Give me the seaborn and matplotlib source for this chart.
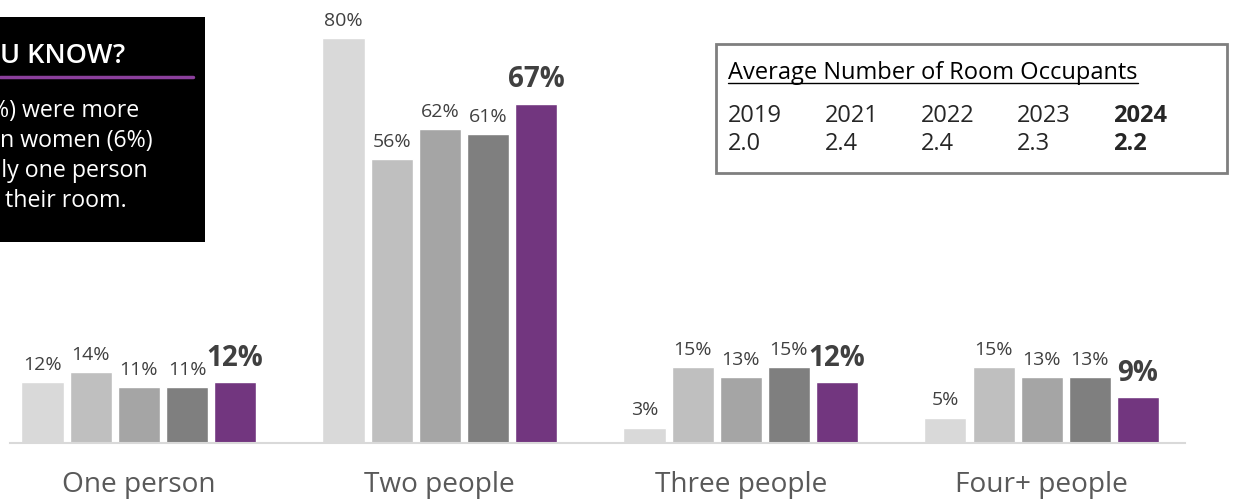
import pandas as pd
import matplotlib.pyplot as plt
import seaborn as sns
from matplotlib.patches import Rectangle
from matplotlib.lines import Line2D

# chart data
categories = ["One person", "Two people", "Three people", "Four+ people"]
years = ["2019", "2021", "2022", "2023", "2024"]
values = {
    "2019": [12, 80, 3, 5],
    "2021": [14, 56, 15, 15],
    "2022": [11, 62, 13, 13],
    "2023": [11, 61, 15, 13],
    "2024": [12, 67, 12, 9],
}
avg_years = ["2019", "2021", "2022", "2023", "2024"]
avg_values = ["2.0", "2.4", "2.4", "2.3", "2.2"]
palette = ["#d9d9d9", "#bfbfbf", "#a5a5a5", "#7f7f7f", "#72367f"]

W, H = 1258, 504


def fx(x):
    return x / W


def fy(y):
    return 1 - y / H


sns.set_style("white")
plt.rcParams["font.family"] = ["Open Sans", "DejaVu Sans"]

df = pd.DataFrame(
    [(c, y, values[y][i]) for y in years for i, c in enumerate(categories)],
    columns=["category", "year", "pct"],
)

fig = plt.figure(figsize=(W / 100, H / 100), dpi=100)
ax = fig.add_axes([fx(10), fy(443), fx(1185) - fx(10), 1 - fy(443)])
ax.patch.set_visible(False)

sns.barplot(data=df, x="category", y="pct", hue="year", palette=palette,
            width=0.8, gap=0.125, saturation=1, legend=False, ax=ax)

ax.set_xlim(-0.428, 3.476)
ax.set_ylim(0, 87.5)
ax.set_xlabel("")
ax.set_ylabel("")
ax.set_yticks([])
for s in ["left", "right", "top"]:
    ax.spines[s].set_visible(False)
ax.spines["bottom"].set_color("#d9d9d9")
ax.spines["bottom"].set_linewidth(1.5)
ax.tick_params(axis="x", length=0, pad=20, labelsize=20.2, labelcolor="#595959")

# value labels on bars
for yr, cont in zip(years, ax.containers):
    labels = [f"{v}%" for v in values[yr]]
    if yr == years[-1]:
        ax.bar_label(cont, labels=labels, padding=7, fontsize=20,
                     fontweight="bold", color="#404040")
    else:
        ax.bar_label(cont, labels=labels, padding=6, fontsize=14,
                     color="#404040")

# "did you know" panel, clipped at the left edge
fig.add_artist(Rectangle((0, fy(242)), fx(205), fy(17) - fy(242),
                         transform=fig.transFigure, facecolor="black",
                         edgecolor="none", zorder=1))
fig.text(fx(0), fy(63), "U KNOW?", color="white", fontsize=19.5,
         fontweight="semibold", va="baseline", ha="left", zorder=3)
fig.add_artist(Line2D([0, fx(193)], [fy(77), fy(77)], color="#8b3f9c",
                      lw=2.5, transform=fig.transFigure, zorder=2))
body = ["%) were more", "n women (6%)", "nly one person", "their room."]
body_end = [139, 153, 148, 127]
for i, (line, bx) in enumerate(zip(body, body_end)):
    fig.text(fx(bx), fy(117 + 30 * i), line, color="white", fontsize=16.7,
             va="baseline", ha="right", zorder=3)

# average occupants box
fig.add_artist(Rectangle((fx(716), fy(173)), fx(1227) - fx(716),
                         fy(44) - fy(173), transform=fig.transFigure,
                         facecolor="white", edgecolor="#7f7f7f", lw=2))
title = fig.text(fx(728), fy(79), "Average Number of Room Occupants",
                 fontsize=17, color="black", va="baseline", ha="left")
col_x = [728, 825, 921, 1017, 1113]
for i, (yr, val) in enumerate(zip(avg_years, avg_values)):
    w = "bold" if i == len(avg_years) - 1 else "normal"
    fig.text(fx(col_x[i]), fy(122), yr, fontsize=17, fontweight=w,
             va="baseline", ha="left")
    fig.text(fx(col_x[i]), fy(150), val, fontsize=17, fontweight=w,
             va="baseline", ha="left")

fig.canvas.draw()
bb = title.get_window_extent(fig.canvas.get_renderer())
fig.add_artist(Line2D([fx(728), bb.x1 / W], [fy(82.5), fy(82.5)],
                      color="black", lw=1, transform=fig.transFigure))

fig.savefig("out.png", dpi=100)
